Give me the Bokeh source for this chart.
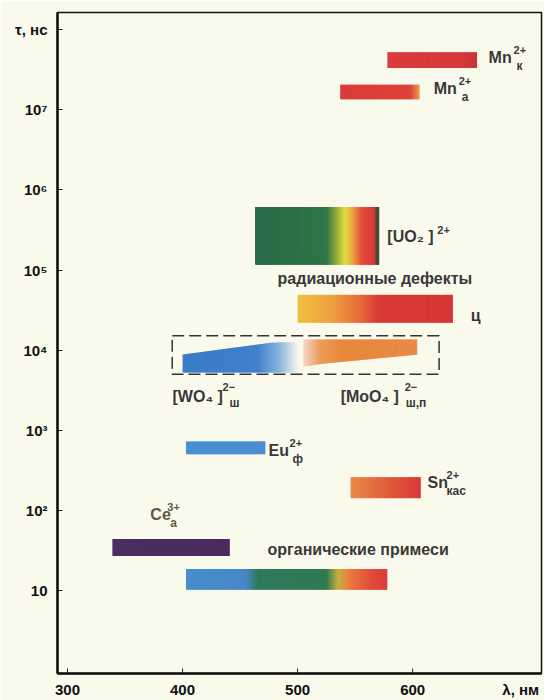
import numpy as np
from bokeh.plotting import figure
from bokeh.models import Label, FixedTicker
from bokeh.embed import file_html
from bokeh.resources import INLINE

# ---------------- data ----------------
x_ticks = [300, 400, 500, 600]
x_tick_labels = ["300", "400", "500", "600"]
x_axis_title = "λ, нм"
y_ticks = [10, 100, 1e3, 1e4, 1e5, 1e6, 1e7, 1e8]
y_tick_labels = ["10", "10²", "10³", "10⁴", "10⁵", "10⁶", "10⁷", "τ, нс"]

bar_names = ["Mn2+ к", "Mn2+ а", "[UO2]2+", "радиационные дефекты ц",
             "Eu2+ ф", "Sn2+ кас", "Ce3+ а", "органические примеси"]
bar_lambda_start = [578, 537, 463, 500, 403, 546, 339, 403]
bar_lambda_end = [656, 606, 571, 635, 472, 607, 441, 578]
bar_tau_low = [3.3e7, 1.35e7, 1.16e5, 2.2e4, 505, 143, 27.2, 10.3]
bar_tau_high = [5.2e7, 2.05e7, 6.1e5, 4.9e4, 730, 261, 44.3, 18.7]
bar_color_stops = [
    [(578, "#dc3b3e"), (640, "#d8393c"), (656, "#c83538")],
    [(537, "#dc3a3a"), (598, "#dd4238"), (606, "#e8a040")],
    [(463, "#2a6a48"), (525, "#2f7548"), (533, "#8aa838"), (541, "#e0e040"),
     (548, "#eea040"), (556, "#e04a38"), (567, "#d83838"), (568, "#4a4a3a"), (571, "#4a4a3a")],
    [(500, "#f0c040"), (530, "#eea040"), (555, "#e56a38"), (570, "#d83a36"), (635, "#d83636")],
    [(403, "#4a8ed2"), (472, "#4a8ed2")],
    [(546, "#ea8a48"), (580, "#e05a3a"), (607, "#d83838")],
    [(339, "#4a2f60"), (441, "#4b2a5e")],
    [(403, "#4a8ccc"), (455, "#4688c8"), (465, "#2e7a5e"), (525, "#2f7a50"), (535, "#c8b040"),
     (545, "#ea7a40"), (565, "#e04a3a"), (578, "#dc3a3a")],
]

# tungstate / molybdate bands (outline)
wo4_lambda = [400, 477, 500]
wo4_tau_low = [5270, 5270, 5270]
wo4_tau_high = [8830, 12400, 12600]
wo4_color_stops = [(400, "#3c7cc8"), (465, "#3f80ca"), (485, "#8cb8e0"), (500, "#f8f2ec")]

moo4_lambda = [505, 522, 604]
moo4_tau_low = [6250, 6800, 8830]
moo4_tau_high = [13600, 13600, 13600]
moo4_color_stops = [(505, "#f6d6cc"), (520, "#ec9a58"), (540, "#e8883a"), (604, "#ea8a48")]

box_lambda = [391, 623]
box_tau = [5000, 15100]

BG = "#fafaec"
TXT = "#383838"
FONT = "Liberation Sans"
X0, X1 = 291.3, 712
Y0, Y1 = 0.931, 1.626e8


def hex2rgb(h):
    h = h.lstrip("#")
    return np.array([int(h[i:i + 2], 16) for i in (0, 2, 4)], dtype=float)


def colors_at(lams, stops):
    sl = np.array([s[0] for s in stops], dtype=float)
    sc = np.array([hex2rgb(s[1]) for s in stops])
    out = []
    for l in lams:
        rgb = [np.interp(l, sl, sc[:, k]) for k in range(3)]
        out.append("#%02x%02x%02x" % tuple(int(round(v)) for v in rgb))
    return out


def gradient_band(p, lam, tau_lo, tau_hi, stops, step=1.0):
    lam = np.asarray(lam, dtype=float)
    edges = np.arange(lam[0], lam[-1], step)
    edges = np.append(edges, lam[-1])
    left, right = edges[:-1], edges[1:]
    mid = (left + right) / 2
    right_ov = np.minimum(right + 0.7 * step, lam[-1])
    lo = 10 ** np.interp(mid, lam, np.log10(tau_lo))
    hi = 10 ** np.interp(mid, lam, np.log10(tau_hi))
    cols = colors_at(mid, stops)
    p.quad(left=left, right=right_ov, bottom=lo, top=hi,
           fill_color=cols, line_color=None)


p = figure(width=544, height=700, x_range=(X0, X1), y_range=(Y0, Y1),
           y_axis_type="log", output_backend="svg", toolbar_location=None,
           min_border_left=57, min_border_right=3, min_border_top=12, min_border_bottom=25,
           background_fill_color=BG, border_fill_color=BG)
p.grid.visible = False
p.outline_line_color = "#111111"
p.outline_line_width = 1.5

for ax in (p.xaxis[0], p.yaxis[0]):
    ax.axis_line_width = 2.5
    ax.axis_line_color = "#111111"
    ax.major_tick_in = 5
    ax.major_tick_out = 0
    ax.minor_tick_in = 0
    ax.minor_tick_out = 0
    ax.major_tick_line_color = "#222222"
    ax.major_label_text_font = FONT
    ax.major_label_text_font_style = "bold"
    ax.major_label_text_font_size = "15px"
    ax.major_label_text_color = "#111111"

# x axis: the title sits in the tick-label row at the right end
title_pos = 694
p.xaxis.ticker = FixedTicker(ticks=x_ticks + [title_pos])
p.xaxis.major_label_overrides = {**{t: s for t, s in zip(x_ticks, x_tick_labels)},
                                 title_pos: x_axis_title}
p.xaxis.major_tick_in = 0
p.xaxis.major_label_standoff = 7
# inward x ticks (5 px on a log axis of ~80.4 px per decade)
p.segment(x0=x_ticks, x1=x_ticks, y0=[Y0] * len(x_ticks),
          y1=[Y0 * 10 ** (5 / 80.44)] * len(x_ticks), line_color="#222222", line_width=1)

p.yaxis.ticker = FixedTicker(ticks=y_ticks, minor_ticks=[])
p.yaxis.major_label_overrides = {t: s for t, s in zip(y_ticks, y_tick_labels)}
p.yaxis.major_label_standoff = 10

# bars
for l0, l1, lo, hi, st in zip(bar_lambda_start, bar_lambda_end, bar_tau_low, bar_tau_high, bar_color_stops):
    gradient_band(p, [l0, l1], [lo, lo], [hi, hi], st)

gradient_band(p, wo4_lambda, wo4_tau_low, wo4_tau_high, wo4_color_stops)
gradient_band(p, moo4_lambda, moo4_tau_low, moo4_tau_high, moo4_color_stops)

p.quad(left=[box_lambda[0]], right=[box_lambda[1]], bottom=[box_tau[0]], top=[box_tau[1]],
       fill_color=None, line_color="#333333", line_width=1.5, line_dash="12 5")


def lab(x, y, text, dx=0, dy=0, size="16px", color=TXT):
    p.add_layout(Label(x=x, y=y, text=text, x_offset=dx, y_offset=dy,
                       text_font=FONT, text_font_style="bold", text_font_size=size,
                       text_color=color, text_align="left", text_baseline="middle"))


def ion(x, y, main, sup, sub, sdx, bdx, color=TXT, sup_dy=7, sub_dy=-9):
    lab(x, y, main, color=color)
    if sup:
        lab(x, y, sup, dx=sdx, dy=sup_dy, size="11px", color=color)
    if sub:
        lab(x, y, sub, dx=bdx, dy=sub_dy, size="12px", color=color)


ion(666, 4.48e7, "Mn", "2+", "к", 25, 28)
ion(618.3, 1.85e7, "Mn", "2+", "а", 25, 28)
ion(578, 2.59e5, "[UO₂ ]", "2+", None, 50, 0)
lab(482.6, 7.78e4, "радиационные дефекты")
lab(650.4, 2.70e4, "ц")
ion(391.3, 2.65e3, "[WO₄ ]", "2−", "ш", 50, 57, sup_dy=9, sub_dy=-7)
ion(537.4, 2.65e3, "[MoO₄ ]", "2−", "ш,п", 64, 65, sup_dy=9, sub_dy=-7)
ion(474.8, 566, "Eu", "2+", "ф", 21, 24)
ion(613, 226, "Sn", "2+", "кас", 19, 19)
ion(372, 90.6, "Ce", "3+", "а", 17, 20, color="#5a5a44")
lab(473.9, 32.4, "органические примеси")

html = file_html(p, INLINE)
html = html.replace("<body>", '<body style="background-color:%s;">' % BG, 1)
open("out.html", "w").write(html)
